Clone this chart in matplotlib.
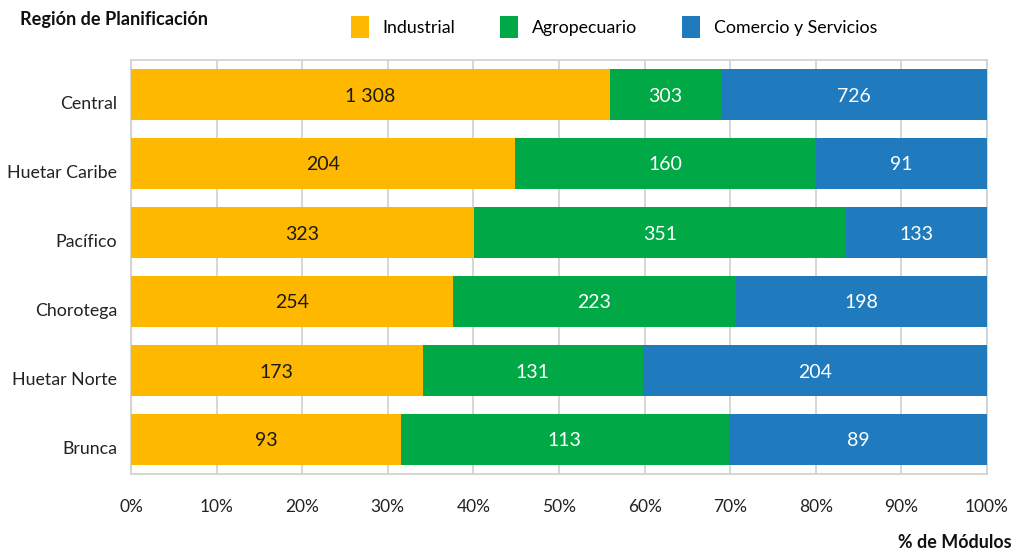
import matplotlib
matplotlib.use("Agg")
import matplotlib.pyplot as plt
import matplotlib.transforms as mtransforms
import numpy as np

regions = ["Central", "Huetar Caribe", "Pacífico", "Chorotega", "Huetar Norte", "Brunca"]
industrial = [1308, 204, 323, 254, 173, 93]
agropecuario = [303, 160, 351, 223, 131, 113]
comercio = [726, 91, 133, 198, 204, 89]
series_names = ["Industrial", "Agropecuario", "Comercio y Servicios"]
colors = ["#FFB800", "#00A846", "#1F7BBD"]
label_colors = ["#1a1a1a", "white", "white"]
xticks = [0, 10, 20, 30, 40, 50, 60, 70, 80, 90, 100]

plt.rcParams['font.family'] = ['Lato', 'DejaVu Sans']

fig = plt.figure(figsize=(10.16, 5.51), dpi=100)
ax = fig.add_axes([131/1016, 1-474/551, (987-131)/1016, (474-60)/551])

data = np.array([industrial, agropecuario, comercio], dtype=float)
totals = data.sum(axis=0)
pct = data / totals * 100
y = np.arange(len(regions))
left = np.zeros(len(regions))
handles = []
for i in range(3):
    b = ax.barh(y, pct[i], left=left, height=0.725, color=colors[i], zorder=3,
                label=series_names[i])
    handles.append(b)
    for j in range(len(regions)):
        v = int(data[i, j])
        s = f"{v:,}".replace(",", " ")
        ax.text(left[j] + pct[i, j] / 2, y[j], s, ha="center", va="center_baseline",
                color=label_colors[i], fontsize=14, zorder=4)
    left += pct[i]

ax.set_xlim(0, 100)
ax.set_ylim(5.5, -0.5)
ax.set_yticks(y)
ax.set_yticklabels(regions, fontsize=12.8, color="#222222")
ax.set_xticks(xticks)
ax.set_xticklabels([f"{t}%" for t in xticks], fontsize=12.5, color="#222222")
ax.tick_params(axis="both", length=0, pad=10)
ax.tick_params(axis="x", pad=18)
offset = mtransforms.ScaledTranslation(0, -8/100, fig.dpi_scale_trans)
for lbl in ax.get_yticklabels():
    lbl.set_transform(lbl.get_transform() + offset)
ax.xaxis.grid(True, color="#D0D0D0", linewidth=1.2, zorder=0)
for sp in ax.spines.values():
    sp.set_color("#D0D0D0")
    sp.set_linewidth(1.2)

fig.text(20/1016, 1-20/551, "Región de Planificación", fontsize=13.1, fontweight="bold",
         ha="left", va="center", color="#111111")
fig.text(1012/1016, 1-542/551, "% de Módulos", fontsize=12.9, fontweight="bold",
         ha="right", va="center", color="#111111")

fig.legend(handles=handles, labels=series_names, loc="center", ncol=3,
           bbox_to_anchor=(614/1016, 1-27/551), frameon=False, fontsize=12.8,
           handlelength=1.0, handleheight=1.5, handletextpad=0.8, columnspacing=2.5)

fig.savefig("out.png", dpi=100, facecolor="white")
